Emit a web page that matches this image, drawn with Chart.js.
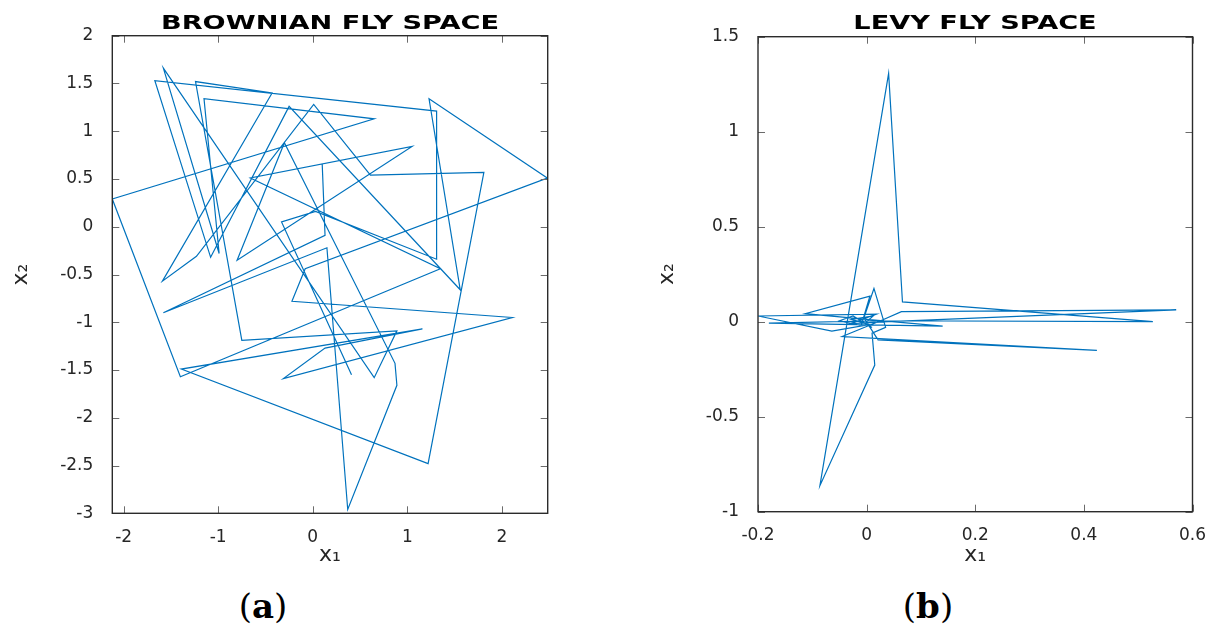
<!DOCTYPE html>
<html>
<head>
<meta charset="utf-8">
<script src="https://cdn.jsdelivr.net/npm/chart.js@4.4.1/dist/chart.umd.min.js"></script>
<style>
  body { margin: 0; background: #fff; width: 1215px; height: 632px; overflow: hidden; position: relative; }
  .wrap { position: absolute; top: 0; height: 580px; }
  #wrapA { left: 0; width: 600px; }
  #wrapB { left: 640px; width: 575px; }
  .ttl { position: absolute; top: 11px; font: bold 19px "DejaVu Sans", sans-serif; color: #000;
         white-space: nowrap; transform: translateX(-50%) scaleX(1.43); }
  .cap { position: absolute; top: 586px; line-height: 44px; font: 34px "DejaVu Serif", serif; color: #000;
         transform: translateX(-50%); white-space: nowrap; }
</style>
</head>
<body>
<div class="wrap" id="wrapA"><canvas id="chartA" width="600" height="580"></canvas></div>
<div class="wrap" id="wrapB"><canvas id="chartB" width="575" height="580"></canvas></div>
<div class="ttl" style="left:330px">BROWNIAN FLY SPACE</div>
<div class="ttl" style="left:975px">LEVY FLY SPACE</div>
<div class="cap" style="left:263px">(<b>a</b>)</div>
<div class="cap" style="left:928px">(<b>b</b>)</div>

<script>
// Brownian walk, vertices in drawing order
const brownianX = [0.41, -0.33, 0.03, 1.31, 1.31, -1.67, -1.08, -0.25, 1.56, 1.23,
                   2.48, -0.08, -0.22, 2.11, -0.31, 0.13, 1.16, -1.39, 1.22, 1.81,
                   0.61, 0.01, -1.23, -1.59, -0.43, -1.24, -0.75, 0.89, 0.65, -1.58,
                   -0.99, -1.15, 0.65, -2.12, -1.40, 1.35, -0.66, 1.05, -0.80, -0.30,
                   0.87, 0.89, 0.37, 0.15, -1.58, 0.13, 0.10];
const brownianY = [-1.55, 0.05, 0.16, -0.34, 1.21, 1.53, -0.32, 1.26, -0.66, 1.34,
                   0.51, -0.44, -0.78, -0.95, -1.59, -1.27, -1.07, -1.49, -2.48, 0.57,
                   0.54, 1.28, -0.31, -0.57, 1.40, 1.52, -1.19, -1.09, -1.58, 1.66,
                   -0.28, 1.34, 1.13, 0.29, -1.57, -0.44, 0.51, 0.84, -0.35, 0.88,
                   -1.43, -1.66, -2.96, -0.22, -0.90, -0.09, 0.66];

// Levy flight
const levyX = [0.000, 0.012, -0.028, 0.005, -0.064, -0.200, 0.018, -0.030, 0.040, 0.570,
               0.064, 0.028, -0.045, 0.424, 0.021, -0.005, 0.0135, 0.035, 0.010, 0.015,
               -0.086, 0.0405, 0.066, 0.527, 0.020, -0.180, 0.140, 0.000, -0.113, 0.006,
               -0.010, -0.050, -0.025, 0.010];
const levyY = [0.000, 0.030, 0.012, -0.015, -0.050, 0.030, 0.040, -0.010, 0.000, 0.062,
               0.053, 0.008, -0.078, -0.151, -0.096, 0.020, 0.175, -0.030, -0.060, -0.228,
               -0.863, 1.307, 0.104, 0.000, 0.005, -0.008, -0.023, 0.012, 0.042, 0.135,
               -0.020, 0.005, 0.030, -0.030];

const brownianXTicks = [-2, -1, 0, 1, 2];
const brownianYTicks = [-3, -2.5, -2, -1.5, -1, -0.5, 0, 0.5, 1, 1.5, 2];
const levyXTicks = [-0.2, 0, 0.2, 0.4, 0.6];
const levyYTicks = [-1, -0.5, 0, 0.5, 1, 1.5];

const LINE_COLOR = '#0072BD';
const TEXT_COLOR = '#262626';
const TICK = 7;

// matlab style box with inward ticks on all four sides
const matlabAxes = {
    id: 'matlabAxes',
    afterDatasetsDraw(chart) {
        const ctx = chart.ctx;
        const a = chart.chartArea;
        const x = chart.scales.x;
        const y = chart.scales.y;
        ctx.save();
        ctx.strokeStyle = '#6b6b6b';
        ctx.lineWidth = 1;
        ctx.beginPath();
        x.ticks.forEach(t => {
            const px = Math.round(x.getPixelForValue(t.value)) + 0.5;
            ctx.moveTo(px, a.bottom); ctx.lineTo(px, a.bottom - TICK);
            ctx.moveTo(px, a.top); ctx.lineTo(px, a.top + TICK);
        });
        y.ticks.forEach(t => {
            const py = Math.round(y.getPixelForValue(t.value)) + 0.5;
            ctx.moveTo(a.left, py); ctx.lineTo(a.left + TICK, py);
            ctx.moveTo(a.right, py); ctx.lineTo(a.right - TICK, py);
        });
        ctx.stroke();
        ctx.strokeStyle = '#2b2b2b';
        ctx.lineWidth = 1.4;
        ctx.strokeRect(a.left, a.top, a.right - a.left, a.bottom - a.top);
        ctx.restore();
    }
};

function makeChart(id, xs, ys, lim, xTicks, yTicks, box) {
    const points = xs.map((v, i) => ({ x: v, y: ys[i] }));
    return new Chart(document.getElementById(id), {
        type: 'scatter',
        data: {
            datasets: [{
                data: points,
                showLine: true,
                borderColor: LINE_COLOR,
                borderWidth: 1.2,
                pointRadius: 0,
                tension: 0,
                fill: false
            }]
        },
        options: {
            responsive: false,
            animation: false,
            layout: { padding: { top: box.top, right: box.right, bottom: 0, left: 0 } },
            plugins: { legend: { display: false }, tooltip: { enabled: false } },
            scales: {
                x: {
                    type: 'linear',
                    min: lim[0], max: lim[1],
                    afterBuildTicks: s => { s.ticks = xTicks.map(v => ({ value: v })); },
                    afterFit: s => { s.height = box.xAxisH; },
                    grid: { display: false },
                    border: { display: false },
                    ticks: {
                        color: TEXT_COLOR, padding: 6, maxRotation: 0, autoSkip: false,
                        font: { family: 'DejaVu Sans', size: 17 },
                        callback: v => String(v)
                    },
                    title: {
                        display: true, text: 'x₁', color: TEXT_COLOR,
                        font: { family: 'DejaVu Sans', size: 22 },
                        padding: { top: 0, bottom: 12 }
                    }
                },
                y: {
                    type: 'linear',
                    min: lim[2], max: lim[3],
                    afterBuildTicks: s => { s.ticks = yTicks.map(v => ({ value: v })); },
                    afterFit: s => { s.width = box.yAxisW; },
                    grid: { display: false },
                    border: { display: false },
                    ticks: {
                        color: TEXT_COLOR, padding: 11, autoSkip: false,
                        font: { family: 'DejaVu Sans', size: 17 },
                        callback: v => String(v)
                    },
                    title: {
                        display: true, text: 'x₂', color: TEXT_COLOR,
                        font: { family: 'DejaVu Sans', size: 22 },
                        padding: { top: box.yTitle, bottom: 0 }
                    }
                }
            }
        },
        plugins: [matlabAxes]
    });
}

makeChart('chartA', brownianX, brownianY, [-2.12, 2.485, -3, 2], brownianXTicks, brownianYTicks,
          { top: 35.7, right: 52.3, xAxisH: 66.7, yAxisW: 112.3, yTitle: 8 });
makeChart('chartB', levyX, levyY, [-0.2, 0.6, -1, 1.5], levyXTicks, levyYTicks,
          { top: 36.7, right: 22.5, xAxisH: 68.3, yAxisW: 118, yTitle: 14 });
</script>
</body>
</html>
